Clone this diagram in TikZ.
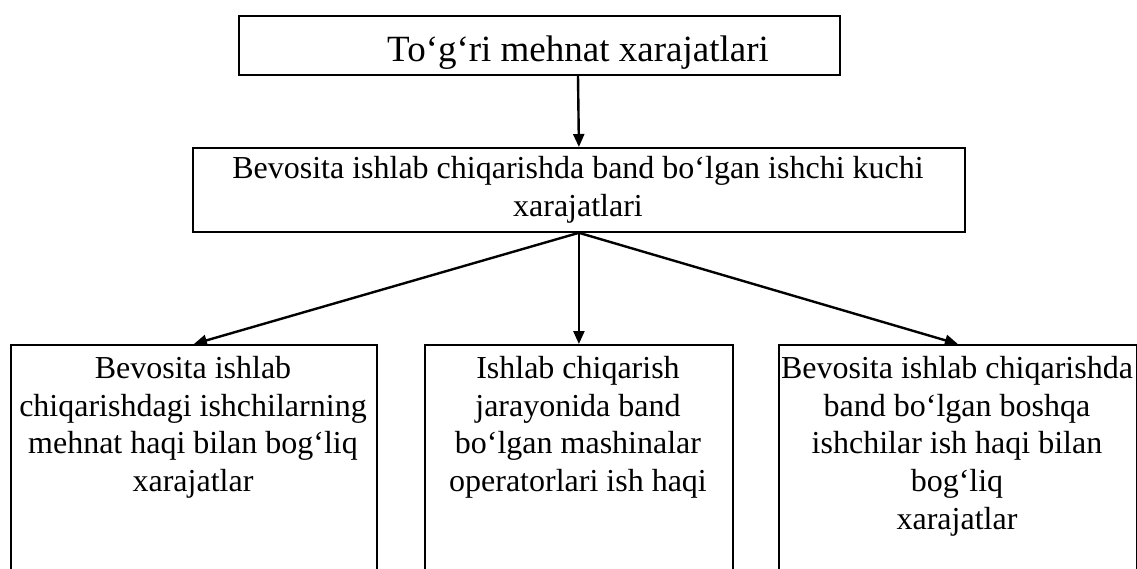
\documentclass[tikz,border=0pt]{standalone}
\usepackage{fontspec}
\setmainfont{Liberation Serif}
\usetikzlibrary{arrows.meta}
\begin{document}
\begin{tikzpicture}[x=1pt,y=-1pt,
  box/.style={draw=black, line width=1.8pt, inner sep=0pt, anchor=north west},
  txt/.style={align=center, inner sep=0pt, anchor=north},
  big/.style={font=\fontsize{37}{43}\selectfont},
  body/.style={font=\fontsize{32}{37.7}\selectfont},
  link/.style={line width=2.4pt, -{Triangle[length=13pt,width=11pt]}},
]
\clip (0,0) rectangle (1137,568);
\useasboundingbox (0,0) rectangle (1137,568);

% frames
\node[box, minimum width=601pt, minimum height=59pt]  (top) at (238,15) {};
\node[box, minimum width=772pt, minimum height=84pt]  (mid) at (192,147) {};
\node[box, minimum width=366pt, minimum height=260pt] (b1)  at (10,344) {};
\node[box, minimum width=308pt, minimum height=260pt] (b2)  at (424,344) {};
\node[box, minimum width=358pt, minimum height=260pt] (b3)  at (778,344) {};

% texts
\node[txt, big, anchor=base] (toptext) at (578,61) {To‘g‘ri mehnat xarajatlari};
\node[txt, body] (midtext) at (578,156) {Bevosita ishlab chiqarishda band bo‘lgan ishchi kuchi\\xarajatlari};
\node[txt, body] (t1) at (193,356) {Bevosita ishlab\\chiqarishdagi ishchilarning\\mehnat haqi bilan bog‘liq\\xarajatlar};
\node[txt, body] (t2) at (578,356) {Ishlab chiqarish\\jarayonida band\\bo‘lgan mashinalar\\operatorlari ish haqi};
\node[txt, body] (t3) at (957,356) {Bevosita ishlab chiqarishda\\band bo‘lgan boshqa\\ishchilar ish haqi bilan\\bog‘liq\\xarajatlar};

% connectors
\draw[link] (toptext |- top.south) -- (mid.north);
\draw[link] (mid.south) -- (b1.north);
\draw[link] (mid.south) -- (b2.north);
\draw[link] (mid.south) -- (b3.north);
\end{tikzpicture}
\end{document}
